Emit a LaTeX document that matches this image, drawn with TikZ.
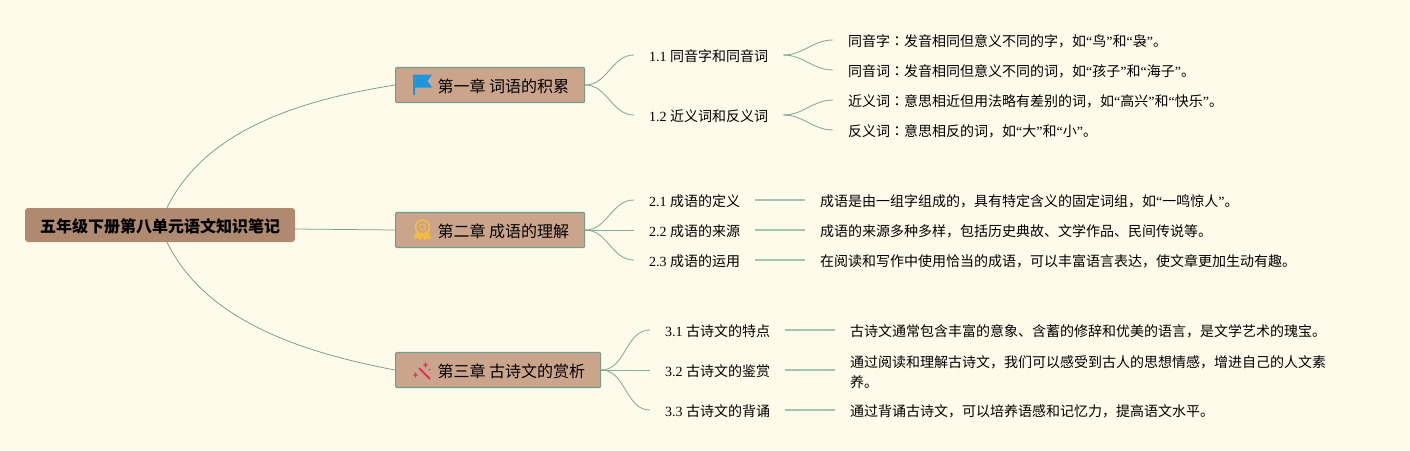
\documentclass[tikz,border=0pt]{standalone}
\usepackage{fontspec}
\setmainfont{Liberation Serif}
\newfontfamily\cjk{Noto Sans CJK SC}
\newfontfamily\cjktc{Noto Sans CJK TC}
\newcommand{\qt}[1]{{\rmfamily “}#1{\rmfamily ”}}
\newcommand{\cln}{{\cjktc ：}}
\definecolor{paper}{HTML}{FFFBEB}
\definecolor{rootfill}{HTML}{B08A70}
\definecolor{chfill}{HTML}{CBA48C}
\definecolor{linkgreen}{HTML}{6F9F8C}
\definecolor{barfill}{HTML}{A3C4B3}
\definecolor{flagblue}{HTML}{1E96DC}
\definecolor{medalgold}{HTML}{F4BE3C}
\definecolor{wandred}{HTML}{E8305A}

\begin{document}
\begin{tikzpicture}[x=1pt,y=-1pt,
    rootnode/.style={fill=rootfill,rounded corners=3pt,minimum width=270pt,minimum height=34pt,inner sep=0pt,text height=15.5pt,text depth=1.3pt,font=\fontsize{16}{20}\selectfont\cjk\bfseries},
    chnode/.style={fill=chfill,draw=linkgreen,line width=1.1pt,rounded corners=1pt,minimum height=35pt,inner xsep=15.5pt,inner ysep=0pt,anchor=west,text height=15.5pt,text depth=1.3pt,font=\fontsize{16}{20}\selectfont\cjk},
    subnode/.style={inner xsep=15pt,inner ysep=0pt,anchor=west,text height=14pt,text depth=1.2pt,font=\fontsize{14}{20}\selectfont},
    leafnode/.style={inner xsep=15pt,inner ysep=0pt,anchor=west,align=left,font=\fontsize{14}{20}\selectfont\cjk},
    oneline/.style={text height=14pt,text depth=1.2pt},
    bigcurve/.style={draw=linkgreen,line width=0.75pt},
    curve/.style={draw=linkgreen!85,line width=0.9pt},
    bar/.style={draw=barfill,line width=1.4pt}]
    \useasboundingbox[fill=paper] (0,0) rectangle (1410,450);

    \node[rootnode] (root) at (160,225) {五年级下册第八单元语文知识笔记};

    \node[chnode] (ch1) at (395,85) {\hspace*{26.5pt}第一章 词语的积累};
    \node[chnode] (ch2) at (395,230) {\hspace*{26.5pt}第二章 成语的理解};
    \node[chnode] (ch3) at (395,370) {\hspace*{26.5pt}第三章 古诗文的赏析};

    \node[subnode] (s11) at (634,55) {1.1 {\cjk 同音字和同音词}};
    \node[subnode] (s12) at (634,115) {1.2 {\cjk 近义词和反义词}};
    \node[subnode] (s21) at (634,200) {2.1 {\cjk 成语的定义}};
    \node[subnode] (s22) at (634,230) {2.2 {\cjk 成语的来源}};
    \node[subnode] (s23) at (634,260) {2.3 {\cjk 成语的运用}};
    \node[subnode] (s31) at (650,330) {3.1 {\cjk 古诗文的特点}};
    \node[subnode] (s32) at (650,370) {3.2 {\cjk 古诗文的鉴赏}};
    \node[subnode] (s33) at (650,410) {3.3 {\cjk 古诗文的背诵}};

    \node[leafnode,oneline] (l1) at (833,40) {同音字\cln 发音相同但意义不同的字，如\qt{鸟}和\qt{袅}。};
    \node[leafnode,oneline] (l2) at (833,70) {同音词\cln 发音相同但意义不同的词，如\qt{孩子}和\qt{海子}。};
    \node[leafnode,oneline] (l3) at (833,100) {近义词\cln 意思相近但用法略有差别的词，如\qt{高兴}和\qt{快乐}。};
    \node[leafnode,oneline] (l4) at (833,130) {反义词\cln 意思相反的词，如\qt{大}和\qt{小}。};
    \node[leafnode,oneline] (l5) at (805,200) {成语是由一组字组成的，具有特定含义的固定词组，如\qt{一鸣惊人}。};
    \node[leafnode,oneline] (l6) at (805,230) {成语的来源多种多样，包括历史典故、文学作品、民间传说等。};
    \node[leafnode,oneline] (l7) at (805,260) {在阅读和写作中使用恰当的成语，可以丰富语言表达，使文章更加生动有趣。};
    \node[leafnode,oneline] (l8) at (835,330) {古诗文通常包含丰富的意象、含蓄的修辞和优美的语言，是文学艺术的瑰宝。};
    \node[leafnode] (l9) at (835,370) {\rule{0pt}{15.5pt}通过阅读和理解古诗文，我们可以感受到古人的思想情感，增进自己的人文素\\养。};
    \node[leafnode,oneline] (l10) at (835,410) {通过背诵古诗文，可以培养语感和记忆力，提高语文水平。};

    \draw[bigcurve] ([xshift=7pt]root.north) .. controls (205,130) and (300,100) .. (ch1.west);
    \draw[bigcurve] ([yshift=-4pt]root.east) -- (ch2.west);
    \draw[bigcurve] ([xshift=7pt]root.south) .. controls (205,320) and (300,352) .. (ch3.west);

    \draw[curve] (ch1.east) to[out=0,in=180] (s11.west);
    \draw[curve] (ch1.east) to[out=0,in=180] (s12.west);
    \draw[curve] (ch2.east) to[out=0,in=180] (s21.west);
    \draw[curve] (ch2.east) -- (s22.west);
    \draw[curve] (ch2.east) to[out=0,in=180] (s23.west);
    \draw[curve] (ch3.east) to[out=0,in=180] (s31.west);
    \draw[curve] (ch3.east) -- (s32.west);
    \draw[curve] (ch3.east) to[out=0,in=180] (s33.west);

    \draw[curve] (s11.east) to[out=0,in=180] (l1.west);
    \draw[curve] (s11.east) to[out=0,in=180] (l2.west);
    \draw[curve] (s12.east) to[out=0,in=180] (l3.west);
    \draw[curve] (s12.east) to[out=0,in=180] (l4.west);
    \draw[bar] (s21.east) -- (l5.west);
    \draw[bar] (s22.east) -- (l6.west);
    \draw[bar] (s23.east) -- (l7.west);
    \draw[bar] (s31.east) -- (l8.west);
    \draw[bar] (s32.east) -- (l9.west);
    \draw[bar] (s33.east) -- (l10.west);

    % icons
    \fill[flagblue] (413,74.5) -- (432,74.5) -- (427.5,81) -- (432,87.5) -- (415,87.5) -- (415,95) -- (413,95) -- cycle;
    \begin{scope}[draw=medalgold,fill=medalgold]
    \draw[line width=1.6pt] (422.5,227) circle (7);
    \draw[line width=1pt] (422.5,227) circle (3);
    \fill (416,232.5) -- (414,239) -- (418,238) -- (420.5,240.5) -- (423,235.5) -- cycle;
    \fill (429,232.5) -- (431,239) -- (427,238) -- (424.5,240.5) -- (422,235.5) -- cycle;
    \end{scope}
    \begin{scope}[fill=wandred]
    \draw[draw=wandred,line width=1.8pt] (419,368) -- (430,379);
    \fill (425.5,362) -- (426.3,364.2) -- (428.5,365) -- (426.3,365.8) -- (425.5,368) -- (424.7,365.8) -- (422.5,365) -- (424.7,364.2) -- cycle;
    \fill (415.5,372) -- (416.3,374.2) -- (418.5,375) -- (416.3,375.8) -- (415.5,378) -- (414.7,375.8) -- (412.5,375) -- (414.7,374.2) -- cycle;
    \fill (429.5,369.5) circle (1);
    \end{scope}
\end{tikzpicture}
\end{document}
